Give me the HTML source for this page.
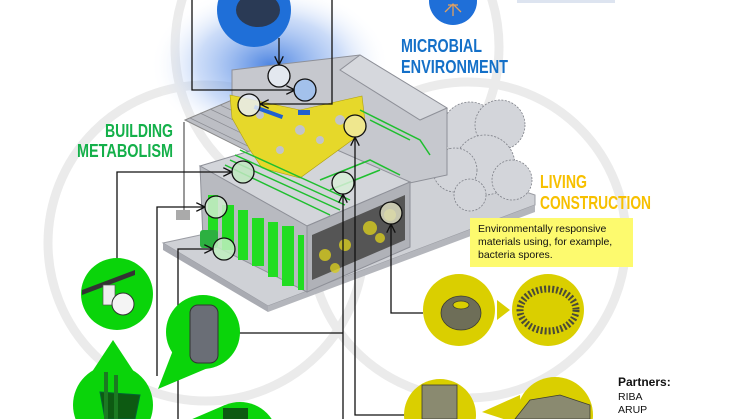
<!DOCTYPE html>
<html><head><meta charset="utf-8"><style>
html,body{margin:0;padding:0;background:#fff;width:746px;height:419px;overflow:hidden}
svg{display:block;overflow:hidden}
.h{font-family:"Liberation Sans",sans-serif;font-weight:bold}
</style></head><body>
<svg width="746" height="419" viewBox="0 0 746 419" xmlns="http://www.w3.org/2000/svg">
<defs>
<radialGradient id="glow" cx="0.5" cy="0.5" r="0.5">
<stop offset="0" stop-color="#2f70dc" stop-opacity="0.85"/>
<stop offset="0.6" stop-color="#7fa8ee" stop-opacity="0.4"/>
<stop offset="1" stop-color="#ffffff" stop-opacity="0"/>
</radialGradient>
<marker id="ar" viewBox="0 0 10 10" refX="9" refY="5" markerWidth="7" markerHeight="7" orient="auto"><path d="M0,0 L10,5 L0,10" fill="none" stroke="#111" stroke-width="1.5"/></marker>
</defs>
<g fill="none" stroke="#ebebeb" stroke-width="9">
<circle cx="337" cy="47" r="162"/>
<circle cx="206" cy="243" r="158"/>
<circle cx="468" cy="240" r="158"/>
</g>
<rect x="517" y="0" width="98" height="3" fill="#dde4f0"/>
<ellipse cx="270" cy="65" rx="120" ry="80" fill="url(#glow)"/>
<circle cx="254" cy="10" r="37" fill="#1f6fd8"/>
<ellipse cx="258" cy="10" rx="22" ry="17" fill="#2a3a55"/>
<circle cx="453" cy="1" r="24" fill="#1f6fd8"/>
<path d="M445,12 L453,4 L461,12 M453,4 L453,16 M448,5 L458,5" stroke="#e0a060" stroke-width="1.3" fill="none"/>
<polygon points="163,243 268,306 535,205 535,195 430,160 270,220" fill="#cfd1d6" stroke="#9a9ca3"/>
<polygon points="163,243 268,306 268,312 163,250" fill="#a9abb2"/>
<polygon points="268,306 535,205 535,212 268,312" fill="#b4b6bc"/>
<g fill="#d3d5da" stroke="#7e8088" stroke-width="0.8" stroke-dasharray="2 1.5">
<circle cx="470" cy="130" r="28"/><circle cx="500" cy="125" r="25"/><circle cx="485" cy="165" r="30"/>
<circle cx="455" cy="170" r="22"/><circle cx="512" cy="180" r="20"/><circle cx="470" cy="195" r="16"/>
</g>
<polygon points="232,70 360,55 447,108 447,175 330,200 232,140" fill="#c6c8ce" stroke="#8e9098"/>
<polygon points="360,55 447,108 420,120 340,70" fill="#d6d8dd" stroke="#8e9098"/>
<polygon points="185,120 232,100 300,130 255,155" fill="#bcbec4" stroke="#888"/>
<g stroke="#8a8c92" stroke-width="0.7"><line x1="190" y1="118" x2="260" y2="152"/><line x1="200" y1="113" x2="270" y2="147"/><line x1="210" y1="109" x2="280" y2="142"/><line x1="220" y1="105" x2="290" y2="137"/></g>
<line x1="184" y1="122" x2="184" y2="215" stroke="#999" stroke-width="2"/>
<rect x="176" y="210" width="14" height="10" fill="#aaa"/>
<polygon points="200,166 303,135 410,182 307,226" fill="#d3d5da" stroke="#8e9098"/>
<polygon points="200,166 307,226 307,292 203,240" fill="#b8bac0" stroke="#8e9098"/>
<polygon points="307,226 410,182 410,247 307,292" fill="#b0b2b8" stroke="#8e9098"/>
<polygon points="312,235 405,195 405,240 312,280" fill="#555"/>
<g fill="#d8cc20" opacity="0.8"><circle cx="325" cy="255" r="6"/><circle cx="345" cy="245" r="6"/><circle cx="370" cy="228" r="7"/><circle cx="390" cy="215" r="6"/><circle cx="335" cy="268" r="5"/><circle cx="380" cy="238" r="5"/></g>
<g fill="#22dd22">
<rect x="208" y="195" width="10" height="40"/><rect x="222" y="205" width="12" height="45"/><rect x="238" y="210" width="10" height="50"/>
<rect x="252" y="218" width="12" height="48"/><rect x="268" y="222" width="10" height="55"/><rect x="282" y="226" width="12" height="60"/><rect x="298" y="235" width="6" height="55"/>
</g>
<rect x="200" y="230" width="18" height="18" rx="3" fill="#2cb040"/>
<polygon points="230,95 300,110 362,96 366,130 300,178 262,168 250,150 232,118" fill="#e6d82a" stroke="#b0a010" stroke-width="0.6"/>
<g fill="#c2c4ca"><circle cx="300" cy="130" r="5"/><circle cx="320" cy="140" r="4"/><circle cx="340" cy="120" r="5"/><circle cx="280" cy="150" r="4"/><circle cx="260" cy="115" r="4"/></g>
<rect x="255" y="105" width="30" height="4" fill="#2060d0" transform="rotate(20 255 105)"/>
<rect x="298" y="110" width="12" height="5" fill="#2060d0"/>
<g stroke="#1fbf2f" stroke-width="1.5" fill="none">
<path d="M225,165 L330,215 M230,160 L340,210 M235,155 L345,205 M240,150 L350,200"/>
<path d="M320,180 L370,160 L400,175 M330,190 L380,170 M360,110 L420,140 L430,155 M370,120 L410,140"/>
</g>
<g stroke="#111" stroke-width="1.3" fill="none">
<path d="M279,38 L279,64" marker-end="url(#ar)"/>
<path d="M192,0 L192,90 L294,90" marker-end="url(#ar)"/>
<path d="M332,0 L332,104 L261,104" marker-end="url(#ar)"/>
<path d="M117,258 L117,172 L231,172" marker-end="url(#ar)"/>
<path d="M157,376 L157,207 L204,207" marker-end="url(#ar)"/>
<path d="M178,419 L178,249 L212,249" marker-end="url(#ar)"/>
<path d="M238,333 L343,333"/>
<path d="M343,419 L343,195" marker-end="url(#ar)"/>
<path d="M405,415 L355,415 L355,138" marker-end="url(#ar)"/>
<path d="M423,313 L391,313 L391,225" marker-end="url(#ar)"/>
</g>
<g stroke="#111" stroke-width="1.3" fill="#e8edf5" fill-opacity="0.85">
<circle cx="279" cy="76" r="11"/><circle cx="305" cy="90" r="11" fill="#9cc0f0"/><circle cx="249" cy="105" r="11"/>
<circle cx="355" cy="126" r="11" fill="#f0eaa0"/><circle cx="243" cy="172" r="11" fill="#bfe8bf"/><circle cx="343" cy="183" r="11" fill="#d8efd8"/>
<circle cx="216" cy="207" r="11" fill="#d0ecd0"/><circle cx="224" cy="249" r="11" fill="#c0efc0"/><circle cx="391" cy="213" r="11" fill="#dcdcc0"/>
</g>
<g fill="#0ad40a">
<circle cx="117" cy="294" r="36"/>
<circle cx="203" cy="332" r="37"/><polygon points="158,389 175,345 215,365"/>
<circle cx="113" cy="405" r="40"/><polygon points="113,340 80,390 146,390"/>
<circle cx="240" cy="440" r="38"/><polygon points="190,420 225,405 230,430"/>
</g>
<g>
<polygon points="82,290 135,270 135,275 82,295" fill="#333"/>
<rect x="103" y="285" width="12" height="20" fill="#eee" stroke="#555" stroke-width="0.7"/>
<circle cx="123" cy="304" r="11" fill="#f4f4f4" stroke="#333"/>
<rect x="190" y="305" width="28" height="58" rx="8" fill="#6a6e76" stroke="#333"/>
<path d="M100,392 L140,395 L135,419 L105,419 Z" fill="#0d5a12" stroke="#063" />
<rect x="104" y="372" width="4" height="47" fill="#1b7a22"/><rect x="114" y="375" width="4" height="44" fill="#1b7a22"/>
<rect x="223" y="408" width="25" height="11" fill="#0d5a12"/>
</g>
<g fill="#dacf00">
<circle cx="459" cy="310" r="36"/><circle cx="548" cy="310" r="36"/>
<polygon points="497,300 510,310 497,320"/>
<circle cx="440" cy="415" r="36"/>
<circle cx="555" cy="415" r="38"/><polygon points="482,412 520,395 522,425"/>
</g>
<g fill="#6e6e58" stroke="#3d3d30" stroke-width="0.8">
<ellipse cx="461" cy="313" rx="20" ry="17"/>
<ellipse cx="461" cy="305" rx="8" ry="4" fill="#dacf00"/>
<ellipse cx="548" cy="310" rx="28" ry="21" fill="none" stroke="#4a4a38" stroke-width="7" stroke-dasharray="2 2"/>
<rect x="422" y="385" width="35" height="34" fill="#8a8a70"/>
<polygon points="515,419 530,400 560,395 590,405 590,419" fill="#8a8a70"/>
</g>
<rect x="470" y="218" width="163" height="49" fill="#fdfa6e"/>
<g font-family="Liberation Sans, sans-serif" font-size="10.5" fill="#111">
<text x="478" y="232">Environmentally responsive</text>
<text x="478" y="245">materials using, for example,</text>
<text x="478" y="258">bacteria spores.</text>
<text x="618" y="386" font-weight="bold" font-size="12">Partners:</text>
<text x="618" y="400">RIBA</text>
<text x="618" y="413">ARUP</text>
</g>
<g class="h" font-size="18">
<text x="401" y="52" fill="#1470c8" textLength="81" lengthAdjust="spacingAndGlyphs">MICROBIAL</text>
<text x="401" y="73" fill="#1470c8" textLength="107" lengthAdjust="spacingAndGlyphs">ENVIRONMENT</text>
<text x="105" y="137" fill="#14b04a" textLength="68" lengthAdjust="spacingAndGlyphs">BUILDING</text>
<text x="77" y="157" fill="#14b04a" textLength="96" lengthAdjust="spacingAndGlyphs">METABOLISM</text>
<text x="540" y="188" fill="#f7c000" textLength="47" lengthAdjust="spacingAndGlyphs">LIVING</text>
<text x="540" y="209" fill="#f7c000" textLength="111" lengthAdjust="spacingAndGlyphs">CONSTRUCTION</text>
</g>
</svg>
</body></html>
